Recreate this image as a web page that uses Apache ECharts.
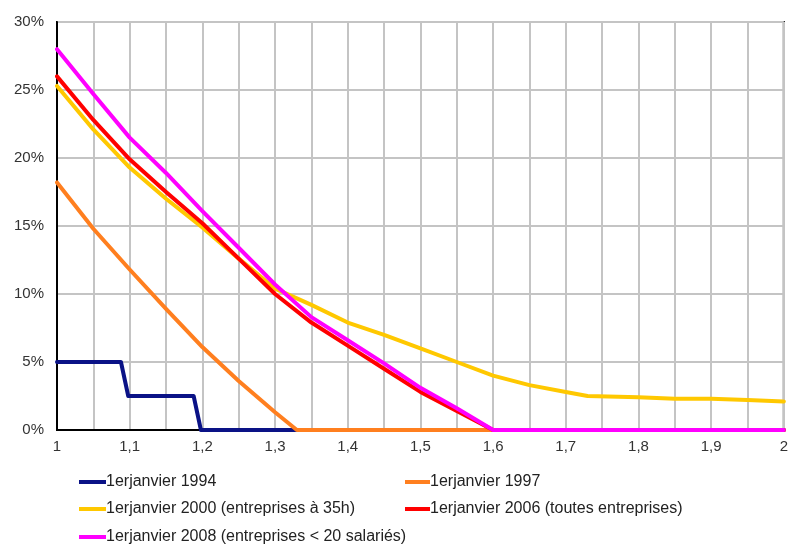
<!DOCTYPE html>
<html>
<head>
<meta charset="utf-8">
<script src="https://cdn.jsdelivr.net/npm/echarts@6/dist/echarts.min.js"></script>
<style>html,body{margin:0;padding:0;background:#fff}#c{width:791px;height:547px}</style>
</head>
<body>
<div id="c"></div>
<script>
var seriesNames = [
  '1erjanvier 1994',
  '1erjanvier 1997',
  '1erjanvier 2000 (entreprises à 35h)',
  '1erjanvier 2006 (toutes entreprises)',
  '1erjanvier 2008 (entreprises < 20 salariés)'
];
var xTickLabels = ['1','1,1','1,2','1,3','1,4','1,5','1,6','1,7','1,8','1,9','2'];

var x1994 = [1, 1.088, 1.098, 1.188, 1.198, 2];
var y1994 = [5, 5, 2.5, 2.5, 0, 0];

var x1997 = [1, 1.05, 1.1, 1.15, 1.2, 1.25, 1.3, 1.33, 2];
var y1997 = [18.2, 14.8, 11.8, 8.9, 6.1, 3.6, 1.3, 0, 0];

var x2000 = [1, 1.05, 1.1, 1.15, 1.2, 1.25, 1.3, 1.35, 1.4, 1.45, 1.5, 1.55, 1.6, 1.65, 1.7, 1.73, 1.8, 1.85, 1.9, 1.95, 2];
var y2000 = [25.3, 22.1, 19.3, 17.0, 14.9, 12.6, 10.4, 9.2, 7.9, 7.0, 6.0, 5.0, 4.0, 3.3, 2.8, 2.5, 2.4, 2.3, 2.3, 2.2, 2.1];

var x2006 = [1, 1.05, 1.1, 1.15, 1.2, 1.25, 1.3, 1.35, 1.4, 1.45, 1.5, 1.55, 1.6, 2];
var y2006 = [26.0, 22.8, 19.9, 17.5, 15.2, 12.6, 10.0, 7.9, 6.2, 4.5, 2.8, 1.4, 0, 0];

var x2008 = [1, 1.05, 1.1, 1.15, 1.2, 1.25, 1.3, 1.35, 1.4, 1.45, 1.5, 1.55, 1.6, 2];
var y2008 = [28.0, 24.7, 21.5, 18.9, 16.1, 13.4, 10.7, 8.3, 6.6, 4.9, 3.1, 1.6, 0, 0];

var colors = ['#0a1286', '#ff7f1f', '#ffc800', '#ff0000', '#ff00ff'];

function pairs(xs, ys) { return xs.map(function (x, i) { return [x, ys[i]]; }); }
var allX = [x1994, x1997, x2000, x2006, x2008];
var allY = [y1994, y1997, y2000, y2006, y2008];

var chart = echarts.init(document.getElementById('c'), null, {renderer: 'canvas'});
var font = 'Liberation Sans, Arial, sans-serif';
var legendText = {fontFamily: font, fontSize: 16, color: '#222', padding: [0, 0, 0, -5]};

var legendPos = [
  {left: 79, top: 474, w: 27},
  {left: 405, top: 474, w: 25},
  {left: 79, top: 501, w: 27},
  {left: 405, top: 501, w: 25},
  {left: 79, top: 529, w: 27}
];

chart.setOption({
  animation: false,
  backgroundColor: '#fff',
  grid: {left: 57, right: 6, top: 22, bottom: 117, show: true, borderColor: '#000', borderWidth: 2},
  xAxis: {
    type: 'value', min: 1, max: 2, interval: 0.05,
    axisLine: {show: true, lineStyle: {color: '#000', width: 2}},
    axisTick: {show: false},
    splitLine: {show: true, lineStyle: {color: '#c4c4c4', width: 2}},
    axisLabel: {
      fontFamily: font, fontSize: 15, color: '#333', margin: 9,
      formatter: function (v) {
        var k = Math.round((v - 1) * 20);
        if (k % 2 !== 0) return '';
        return xTickLabels[k / 2];
      }
    }
  },
  yAxis: {
    type: 'value', min: 0, max: 30, interval: 5,
    axisLine: {show: true, lineStyle: {color: '#000', width: 2}},
    axisTick: {show: false},
    splitLine: {show: true, lineStyle: {color: '#c4c4c4', width: 2}},
    axisLabel: {fontFamily: font, fontSize: 15, color: '#333', margin: 13, formatter: '{value}%'}
  },
  legend: seriesNames.map(function (n, i) {
    return {
      data: [n], orient: 'horizontal', left: legendPos[i].left, top: legendPos[i].top,
      padding: 0, itemWidth: legendPos[i].w, itemHeight: 4, icon: 'rect', textStyle: legendText
    };
  }),
  series: seriesNames.map(function (n, i) {
    return {
      name: n, type: 'line', data: pairs(allX[i], allY[i]),
      showSymbol: false, symbol: 'none', smooth: false,
      lineStyle: {color: colors[i], width: 4, join: 'round', cap: 'round'},
      itemStyle: {color: colors[i]},
      z: 2 + i
    };
  })
});
</script>
</body>
</html>
